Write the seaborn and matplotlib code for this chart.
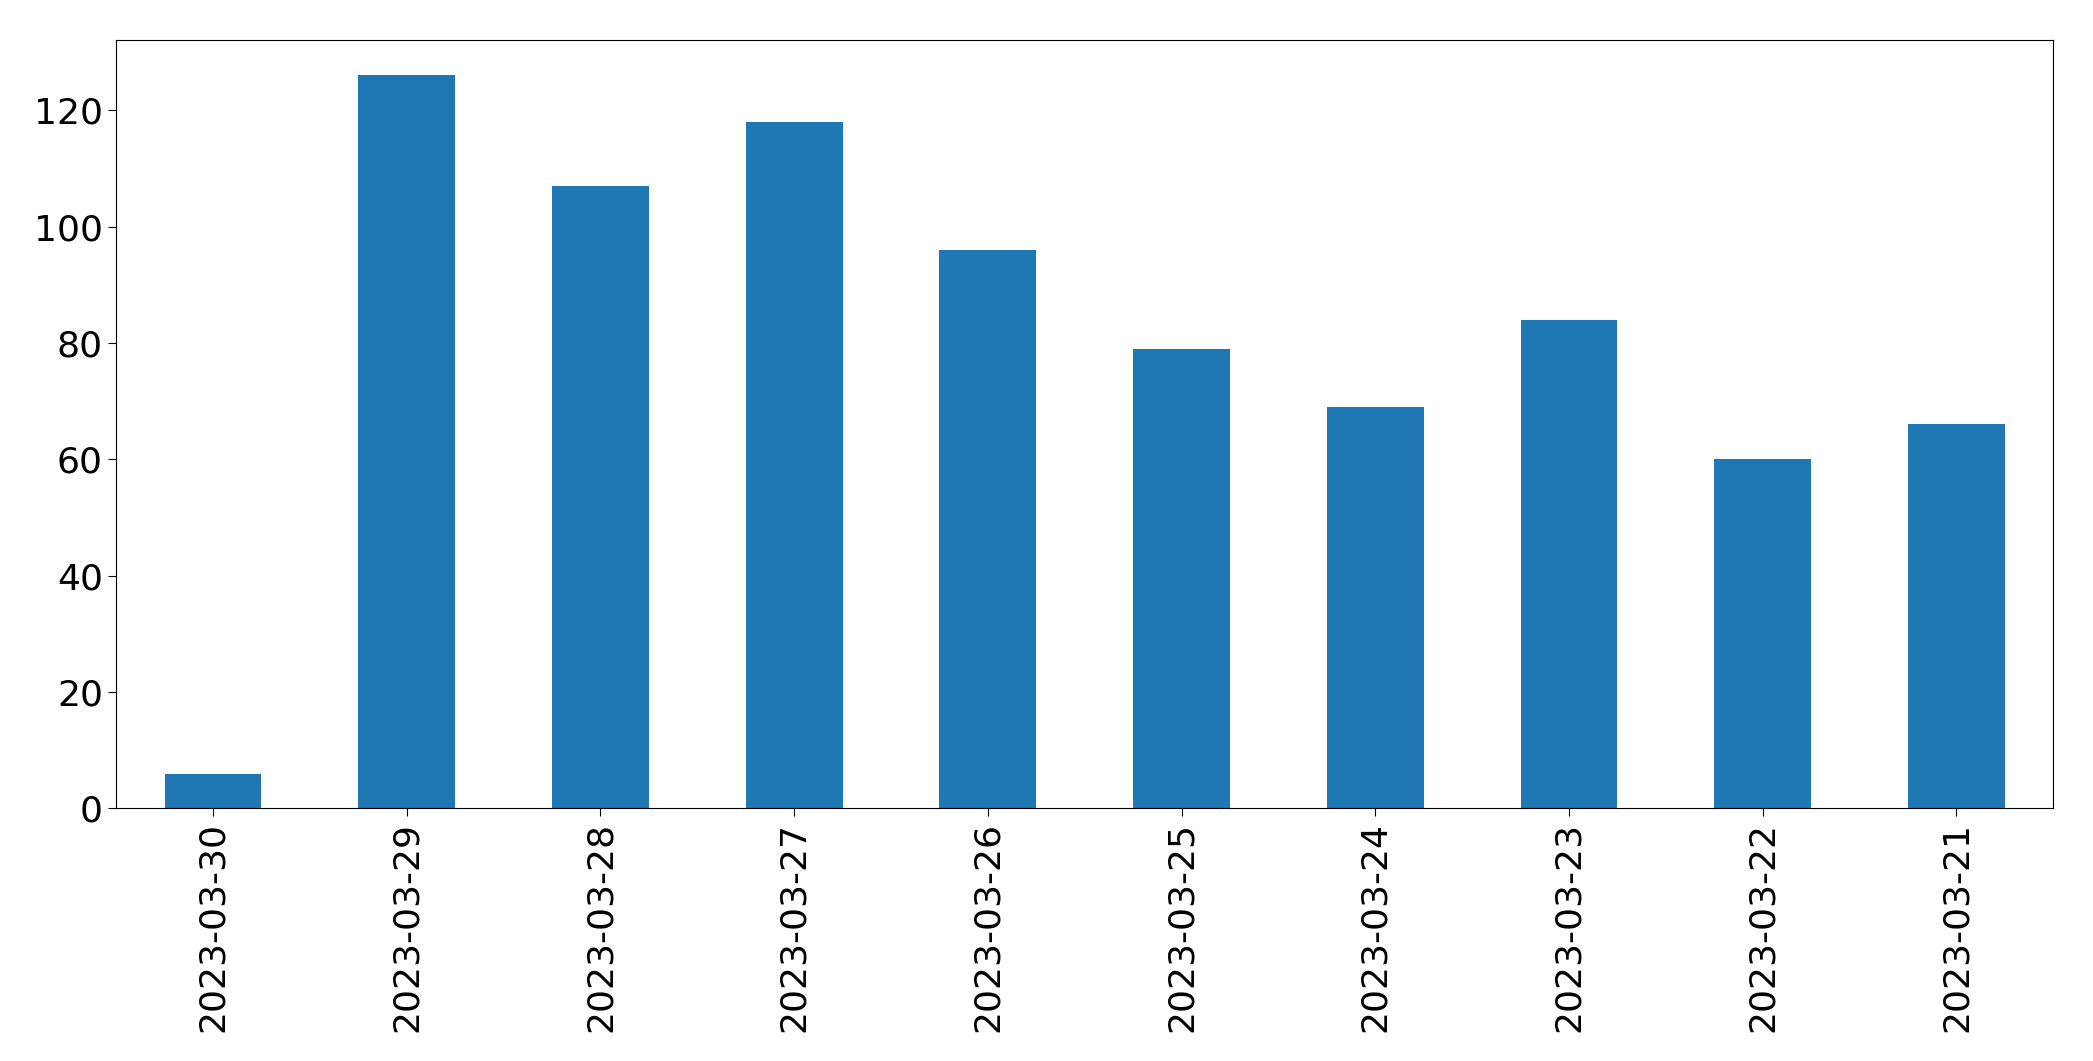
import matplotlib
matplotlib.use("Agg")
import matplotlib.pyplot as plt
import seaborn as sns
import pandas as pd

dates = ["2023-03-30", "2023-03-29", "2023-03-28", "2023-03-27", "2023-03-26",
         "2023-03-25", "2023-03-24", "2023-03-23", "2023-03-22", "2023-03-21"]
counts = [6, 126, 107, 118, 96, 79, 69, 84, 60, 66]

df = pd.DataFrame({"date": dates, "count": counts})

fig = plt.figure(figsize=(20.93, 10.61), dpi=100)
ax = fig.add_axes([0.0555, 0.238, 0.9255, 0.724])
sns.barplot(data=df, x="date", y="count", order=dates, color="#1f77b4",
            saturation=1, width=0.5, ax=ax)
ax.set_xlabel("")
ax.set_ylabel("")
ax.set_ylim(0, 132)
ax.set_xlim(-0.5, len(dates) - 0.5)
ax.tick_params(axis="both", labelsize=26, length=6)
plt.setp(ax.get_xticklabels(), rotation=90)
fig.savefig("out.png", dpi=100)
